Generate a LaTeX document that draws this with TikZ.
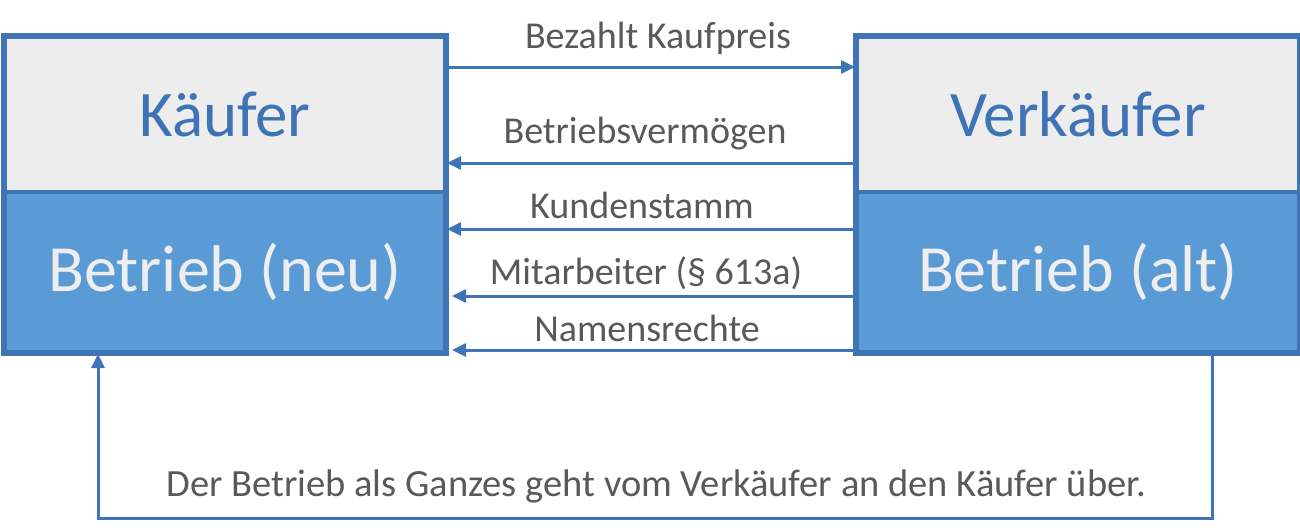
\documentclass[tikz,border=0pt]{standalone}
\usepackage{fontspec}
\setmainfont{Carlito}
\usetikzlibrary{arrows.meta,calc}
\definecolor{bord}{HTML}{3F75B6}
\definecolor{topfill}{HTML}{EDEDED}
\definecolor{botfill}{HTML}{5B9BD5}
\definecolor{titletxt}{HTML}{3E73B6}
\definecolor{lbltxt}{HTML}{595959}
\definecolor{boxtxt}{HTML}{EEEEEE}
\tikzset{
  topbox/.style={draw=bord, fill=topfill, line width=4pt, inner sep=0pt, minimum height=155pt, anchor=north west, text=titletxt, font=\fontsize{65}{72}\selectfont},
  botbox/.style={draw=bord, fill=botfill, line width=4pt, inner sep=0pt, minimum height=160pt, anchor=north west, text=boxtxt, font=\fontsize{66}{72}\selectfont},
  conn/.style={draw=bord, line width=3pt, -{Triangle[length=14pt,width=13pt]}},
  lbl/.style={text=lbltxt, font=\fontsize{38}{42}\selectfont, inner sep=0pt},
}
\begin{document}
\begin{tikzpicture}[x=1pt,y=-1pt]
\useasboundingbox[fill=white] (0,0) rectangle (1300,530);
% boxes
\node[topbox, minimum width=440pt] (kt) at (3,35) {Käufer};
\node[botbox, minimum width=440pt] (kb) at (3,190) {Betrieb (neu)};
\node[topbox, minimum width=442pt] (vt) at (855,35) {Verkäufer};
\node[botbox, minimum width=442pt] (vb) at (855,190) {Betrieb (alt)};
\draw[bord, line width=4pt] (kt.north west) rectangle (kb.south east);
\draw[bord, line width=4pt] (vt.north west) rectangle (vb.south east);
% levels
\coordinate (y1) at (0,67);
\coordinate (y2) at (0,163);
\coordinate (y3) at (0,229);
\coordinate (y4) at (0,296);
\coordinate (y5) at (0,350);
\path[conn] (kt.east |- y1) -- (vt.west |- y1);
\path[conn] (vt.west |- y2) -- (kt.east |- y2);
\path[conn] (vt.west |- y3) -- (kb.east |- y3);
\path[conn] (vb.west |- y4) -- ($(kb.east |- y4)+(5,0)$);
\path[conn] (vb.west |- y5) -- ($(kb.east |- y5)+(5,0)$);
% labels
\node[lbl] (l1) at (658,38) {Bezahlt Kaufpreis};
\node[lbl] (l2) at (645,134) {Betriebsvermögen};
\node[lbl] (l3) at (642,205) {Kundenstamm};
\node[lbl] (l4) at (646,273) {Mitarbeiter (§ 613a)};
\node[lbl] (l5) at (647,328) {Namensrechte};
% bottom loop
\coordinate (br) at (1212,518);
\coordinate (bl) at (98,518);
\path[conn] (vb.south -| br) -- (br) -- (bl) -- (kb.south -| bl);
\node[lbl, font=\fontsize{38.5}{42}\selectfont] (l6) at (656,486) {Der Betrieb als Ganzes geht vom Verkäufer an den Käufer über.};
\end{tikzpicture}
\end{document}
